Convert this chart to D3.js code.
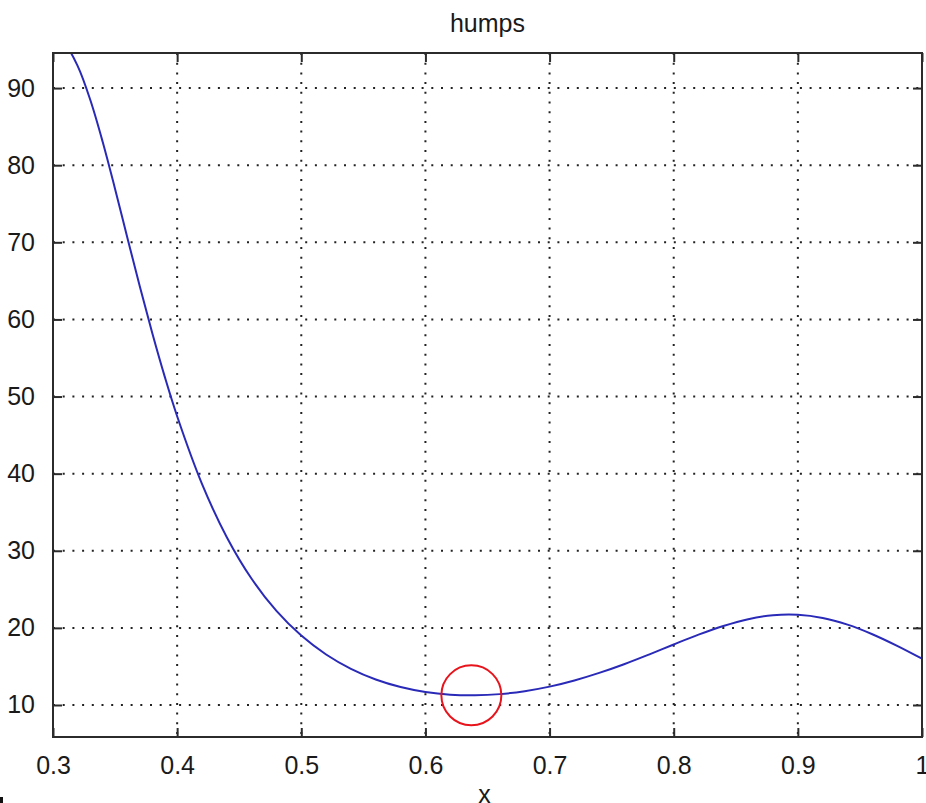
<!DOCTYPE html>
<html>
<head>
<meta charset="utf-8">
<script src="https://cdn.jsdelivr.net/npm/d3@7"></script>
<style>
  html, body { margin: 0; padding: 0; background: #fff; }
  svg { display: block; }
  text { font-family: "Liberation Sans", Arial, sans-serif; fill: #1a1a1a; }
</style>
</head>
<body>
<svg id="chart" width="926" height="803"></svg>
<script>
// humps(x) sampled over [0.3, 1]
const xValues = [0.30, 0.31, 0.32, 0.33, 0.34, 0.35, 0.36, 0.37, 0.38, 0.39,
  0.40, 0.42, 0.44, 0.46, 0.48, 0.50, 0.52, 0.54, 0.56, 0.58,
  0.60, 0.62, 0.64, 0.66, 0.68, 0.70, 0.72, 0.74, 0.76, 0.78,
  0.80, 0.82, 0.84, 0.86, 0.88, 0.90, 0.92, 0.94, 0.96, 0.98, 1.00];
const yValues = [96.50, 95.59, 92.81, 88.48, 83.04, 76.92, 70.54, 64.23, 58.20, 52.58,
  47.45, 38.68, 31.76, 26.37, 22.20, 19.00, 16.55, 14.69, 13.31, 12.33,
  11.69, 11.34, 11.26, 11.41, 11.79, 12.38, 13.18, 14.16, 15.29, 16.54,
  17.85, 19.12, 20.25, 21.13, 21.64, 21.70, 21.29, 20.42, 19.18, 17.67, 16.00];

const xTicks = [0.3, 0.4, 0.5, 0.6, 0.7, 0.8, 0.9, 1];
const yTicks = [10, 20, 30, 40, 50, 60, 70, 80, 90];
const xDomain = [0.3, 1];
const yDomain = [5.85, 94.55];

// local minimum highlighted by a circle
const minPoint = { x: 0.637, y: 11.25 };

const title = "humps";
const xLabel = "x";

const svg = d3.select("#chart");
const m = { left: 53, right: 922, top: 53, bottom: 737 };

const x = d3.scaleLinear().domain(xDomain).range([m.left, m.right]);
const y = d3.scaleLinear().domain(yDomain).range([m.bottom, m.top]);

const ink = "#2b2b2b";

// dotted grid
const grid = svg.append("g");
grid.selectAll("line.gx").data(xTicks.slice(1, -1)).join("line")
  .attr("x1", d => x(d)).attr("x2", d => x(d))
  .attr("y1", m.top).attr("y2", m.bottom)
  .attr("stroke", "#222").attr("stroke-width", 2)
  .attr("stroke-dasharray", "2,7.7");
grid.selectAll("line.gy").data(yTicks).join("line")
  .attr("x1", m.left).attr("x2", m.right)
  .attr("y1", d => y(d)).attr("y2", d => y(d))
  .attr("stroke", "#222").attr("stroke-width", 2)
  .attr("stroke-dasharray", "2,7.7");

// curve, clipped to the axes box
svg.append("clipPath").attr("id", "plotClip")
  .append("rect").attr("x", m.left).attr("y", m.top)
  .attr("width", m.right - m.left).attr("height", m.bottom - m.top);

const line = d3.line()
  .x((d, i) => x(xValues[i]))
  .y(d => y(d))
  .curve(d3.curveCatmullRom.alpha(0.5));

svg.append("path")
  .attr("clip-path", "url(#plotClip)")
  .attr("d", line(yValues))
  .attr("fill", "none")
  .attr("stroke", "#2a2ab8")
  .attr("stroke-width", 2);

// axes with inward ticks on all four sides
const tickLen = 9;
const axisBottom = d3.axisBottom(x).tickValues(xTicks).tickSizeInner(-tickLen).tickSizeOuter(0)
  .tickPadding(tickLen + 10).tickFormat(d3.format("~g"));
const axisLeft = d3.axisLeft(y).tickValues(yTicks).tickSizeInner(-tickLen).tickSizeOuter(0)
  .tickPadding(tickLen + 9).tickFormat(d3.format("d"));
const axisTop = d3.axisTop(x).tickValues(xTicks).tickSizeInner(-tickLen).tickSizeOuter(0).tickFormat("");
const axisRight = d3.axisRight(y).tickValues(yTicks).tickSizeInner(-tickLen).tickSizeOuter(0).tickFormat("");

function style(g) {
  g.select(".domain").remove();
  g.selectAll(".tick line").attr("stroke", ink).attr("stroke-width", 2);
  g.selectAll(".tick text").attr("font-size", 25).attr("fill", "#1a1a1a")
    .style("font-family", "'Liberation Sans', Arial, sans-serif");
}

svg.append("g").attr("transform", `translate(0,${m.bottom})`).call(axisBottom).call(style);
svg.append("g").attr("transform", `translate(${m.left},0)`).call(axisLeft).call(style);
svg.append("g").attr("transform", `translate(0,${m.top})`).call(axisTop).call(style);
svg.append("g").attr("transform", `translate(${m.right},0)`).call(axisRight).call(style);

// axes box
svg.append("rect")
  .attr("x", m.left).attr("y", m.top)
  .attr("width", m.right - m.left).attr("height", m.bottom - m.top)
  .attr("fill", "none").attr("stroke", ink).attr("stroke-width", 2);

// minimum marker
svg.append("circle")
  .attr("cx", x(minPoint.x)).attr("cy", y(minPoint.y)).attr("r", 30)
  .attr("fill", "none").attr("stroke", "#e8141c").attr("stroke-width", 2);

// title and axis label
svg.append("text")
  .attr("x", (m.left + m.right) / 2).attr("y", 32)
  .attr("text-anchor", "middle").attr("font-size", 25)
  .text(title);

svg.append("text")
  .attr("x", (m.left + m.right) / 2 - 3).attr("y", 803)
  .attr("text-anchor", "middle").attr("font-size", 25)
  .text(xLabel);

// small stray mark at the lower-left corner
svg.append("rect").attr("x", 0).attr("y", 797).attr("width", 3).attr("height", 6).attr("fill", "#111");
</script>
</body>
</html>
